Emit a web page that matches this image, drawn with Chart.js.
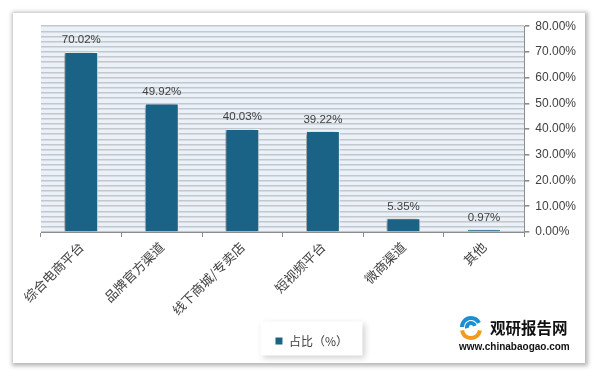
<!DOCTYPE html>
<html>
<head>
<meta charset="utf-8">
<script src="https://cdn.jsdelivr.net/npm/chart.js@4/dist/chart.umd.min.js"></script>
<style>
  html, body { margin: 0; padding: 0; background: #fff; width: 609px; height: 376px; overflow: hidden; }
  #frame {
    position: absolute; left: 13px; top: 13px; width: 572px; height: 350px;
    background: #fff;
    box-shadow: 1px 1px 4px 2px rgba(0,0,0,0.28);
  }
</style>
</head>
<body>
<div id="frame"><canvas id="chart" width="572" height="350"></canvas></div>
<script>
// data
var categories = ["综合电商平台", "品牌官方渠道", "线下商城/专卖店", "短视频平台", "微商渠道", "其他"];
var share = [70.02, 49.92, 40.03, 39.22, 5.35, 0.97];
var seriesName = "占比（%）";
var yTicks = [0, 10, 20, 30, 40, 50, 60, 70, 80];

var barColor = "#1b6386";
var textColor = "#404040";

// striped plot background + bar shadow
var plotBg = {
  id: "plotBg",
  beforeDraw: function (chart) {
    var a = chart.chartArea, c = chart.ctx;
    c.save();
    c.fillStyle = "#eaf1f8";
    c.fillRect(a.left, a.top, a.right - a.left, a.bottom - a.top);
    c.restore();
  },
  beforeDatasetsDraw: function (chart) {
    var c = chart.ctx;
    c.save();
    c.shadowColor = "rgba(0,0,0,0.45)";
    c.shadowBlur = 4;
    c.shadowOffsetX = -2;
    c.shadowOffsetY = 1;
  },
  afterDatasetsDraw: function (chart) {
    chart.ctx.restore();
  }
};

// value labels above bars
var valueLabels = {
  id: "valueLabels",
  afterDatasetsDraw: function (chart) {
    var c = chart.ctx;
    var meta = chart.getDatasetMeta(0);
    c.save();
    c.font = "11.5px 'Liberation Sans'";
    c.fillStyle = textColor;
    c.textAlign = "center";
    c.textBaseline = "bottom";
    meta.data.forEach(function (bar, i) {
      c.fillText(share[i].toFixed(2) + "%", bar.x, bar.y - 6);
    });
    c.restore();
  }
};

// legend box shadow
var legendBox = {
  id: "legendBox",
  beforeDraw: function (chart) {
    var l = chart.legend, c = chart.ctx;
    if (!l) return;
    c.save();
    c.shadowColor = "rgba(0,0,0,0.18)";
    c.shadowBlur = 6;
    c.shadowOffsetX = 2;
    c.shadowOffsetY = 2;
    c.fillStyle = "#fff";
    var w = 102, h = 34;
    var cx = (l.left + l.right) / 2;
    var cy = (l.top + l.bottom) / 2;
    c.fillRect(cx - w / 2, cy - h / 2, w, h);
    c.restore();
  }
};

// watermark
var logo = {
  id: "logo",
  afterDraw: function (chart) {
    var c = chart.ctx;
    c.save();
    c.lineWidth = 4;
    c.strokeStyle = "#1d8fd0";
    c.beginPath(); c.arc(458, 314, 9, Math.PI * 1.0, Math.PI * 1.85); c.stroke();
    c.beginPath(); c.arc(458, 314, 4, Math.PI * 0.9, Math.PI * 1.9); c.stroke();
    c.strokeStyle = "#f39a1e";
    c.beginPath(); c.arc(458, 316, 9, Math.PI * 0.05, Math.PI * 0.95); c.stroke();
    c.fillStyle = "#111";
    c.textAlign = "left";
    c.textBaseline = "middle";
    c.font = "bold 15.5px 'Noto Sans CJK SC'";
    c.fillText("观研报告网", 477, 315);
    c.font = "bold 10px 'Liberation Sans'";
    c.fillText("www.chinabaogao.com", 446, 334);
    c.restore();
  }
};

var chart = new Chart("chart", {
  type: "bar",
  data: {
    labels: categories,
    datasets: [{
      label: seriesName,
      data: share,
      backgroundColor: barColor,
      borderColor: "#ffffff",
      borderWidth: 1,
      barPercentage: 0.42,
      categoryPercentage: 1
    }]
  },
  options: {
    responsive: false,
    animation: false,
    devicePixelRatio: 1,
    layout: { padding: { left: 28, right: 3, top: 13, bottom: 6 } },
    plugins: {
      tooltip: { enabled: false },
      legend: {
        position: "bottom",
        labels: {
          boxWidth: 8, boxHeight: 8, padding: 15,
          color: textColor,
          font: { family: "'Noto Sans CJK SC'", size: 12 }
        }
      }
    },
    scales: {
      x: {
        grid: { offset: true, drawOnChartArea: false, tickLength: 5, color: "#8c8c8c" },
        border: { color: "#8c8c8c" },
        ticks: {
          minRotation: 45, maxRotation: 45, padding: 2,
          color: textColor,
          font: { family: "'Noto Sans CJK SC'", size: 13 }
        }
      },
      y: {
        position: "right",
        min: 0, max: 80,
        grid: {
          color: "#c3c8cc",
          lineWidth: 1.6,
          tickLength: 5,
          tickColor: function (ctx) { return ctx.tick && ctx.tick.value % 10 === 0 ? "#8c8c8c" : "rgba(0,0,0,0)"; }
        },
        border: { color: "#8c8c8c" },
        ticks: {
          stepSize: 2,
          autoSkip: false,
          padding: 6,
          color: textColor,
          font: { family: "'Liberation Sans'", size: 12 },
          callback: function (v) { return yTicks.indexOf(v) >= 0 ? v.toFixed(2) + "%" : ""; }
        }
      }
    }
  },
  plugins: [plotBg, valueLabels, legendBox, logo]
});
</script>
</body>
</html>
